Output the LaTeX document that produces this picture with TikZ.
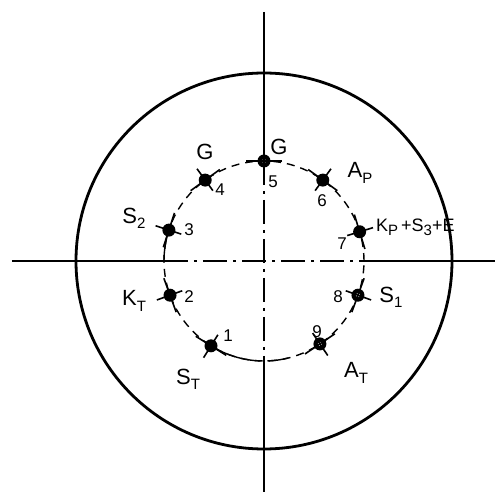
\documentclass[tikz,border=0pt]{standalone}
\usepackage{fontspec}
\setmainfont{Liberation Sans}
\newcommand\lsub[1]{\raisebox{-0.45ex}{\fontsize{15}{15}\selectfont #1}}
\begin{document}
\begin{tikzpicture}[x=1pt,y=1pt,
 outer/.style={line width=2.8pt},
 axis/.style={line width=1.5pt},
 dashdot/.style={line width=1.5pt, dash pattern=on 24pt off 6pt on 3pt off 6pt},
 inner/.style={line width=1.4pt, dash pattern=on 8pt off 6pt},
 innersolid/.style={line width=1.4pt},
 pin/.style={circle, fill=black, minimum size=13pt, inner sep=0pt},
 ringpin/.style={pin, path picture={\fill[white] (path picture bounding box.center) circle (2pt);}},
 lead/.style={line width=1.6pt},
 lab/.style={font=\fontsize{22}{22}\selectfont, inner sep=0pt},
 smalllab/.style={font=\fontsize{18}{18}\selectfont, inner sep=0pt},
 num/.style={font=\fontsize{17}{17}\selectfont, inner sep=0pt}]
\useasboundingbox (-264,-231) rectangle (231,261);
\coordinate (C) at (0,0);
% outer circle
\draw[outer] (C) circle (188);
% axes
\coordinate (vt) at (0,249); \coordinate (vb) at (0,-231);
\coordinate (vi1) at (0,100); \coordinate (vi2) at (0,-100);
\coordinate (hl) at (-252,0); \coordinate (hr) at (231,0);
\coordinate (hi1) at (-100,0); \coordinate (hi2) at (100,0);
\draw[axis] (vt) -- (vi1);
\draw[dashdot] (vi1) -- (vi2);
\draw[axis] (vi2) -- (vb);
\draw[axis] (hl) -- (hi1);
\draw[dashdot] (hi1) -- (hi2);
\draw[axis] (hi2) -- (hr);
% inner pitch circle
\draw[inner] (C) circle (100);
\draw[innersolid] (238:100) arc (238:268:100);
\draw[innersolid] (272:100) arc (272:284:100);
\draw[innersolid] (162:100) arc (162:180:100);
% pins
\foreach \n/\a/\s in {1/238/pin,2/200/pin,3/162/pin,4/126/pin,5/90/ringpin,6/54/pin,7/17/pin,8/-20/ringpin,9/-56/ringpin}{
  \node[\s] (p\n) at (\a:100) {};
  \begin{scope}[shift={(p\n.center)}, rotate=\a]
    \draw[lead] (0,-18) -- (0,18);
    \draw[lead] (-13,0) -- (14,0);
  \end{scope}
}
% labels
\node[lab] (lG5) at (15,114) {G};
\node[num] (n5) at (9,79) {5};
\node[lab] (lG4) at (-59,109) {G};
\node[num] (n4) at (-44,71) {4};
\node[lab] (lAP) at (96,88) {A\lsub{P}};
\node[num] (n6) at (58,60) {6};
\node[smalllab, anchor=west] (lKP) at (112,34) {K\lsub{P}\,+S\lsub{3}+E};
\node[num] (n7) at (78,17) {7};
\node[lab] (lS1) at (127,-36) {S\lsub{1}};
\node[num] (n8) at (74,-36) {8};
\node[lab] (lS2) at (-130,43) {S\lsub{2}};
\node[num] (n3) at (-75,31) {3};
\node[lab] (lKT) at (-130,-40) {K\lsub{T}};
\node[num] (n2) at (-75,-36) {2};
\node[lab] (lST) at (-76,-118) {S\lsub{T}};
\node[num] (n1) at (-36,-75) {1};
\node[lab] (lAT) at (92,-112) {A\lsub{T}};
\node[num] (n9) at (53,-71) {9};
\end{tikzpicture}
\end{document}
